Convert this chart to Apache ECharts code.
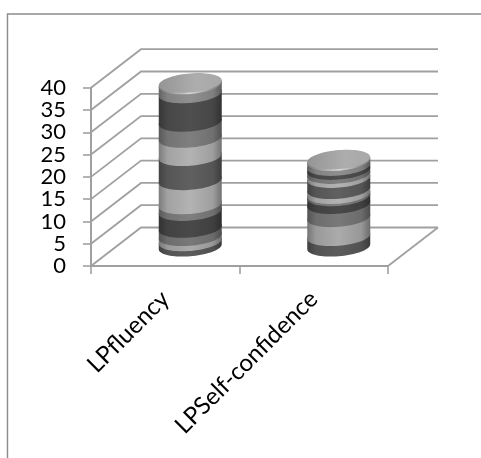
<!DOCTYPE html>
<html>
<head>
<meta charset="utf-8">
<style>html,body{margin:0;padding:0;background:#fff}#c{width:481px;height:458px}</style>
<script src="https://cdn.jsdelivr.net/npm/echarts@6/dist/echarts.min.js"></script>
</head>
<body>
<div id="c"></div>
<script>
const categories = ['LPfluency', 'LPSelf-confidence'];
const yTicks = [0, 5, 10, 15, 20, 25, 30, 35, 40];
// Stacked series, bottom to top, one value per category
const s01 = [1.2, 2.35];
const s02 = [1.15, 4.25];
const s03 = [1.85, 2.95];
const s04 = [3.8, 1.75];
const s05 = [1.5, 0.5];
const s06 = [5.4, 1.1];
const s07 = [5.4, 2.5];
const s08 = [4.1, 0.9];
const s09 = [3.6, 0.9];
const s10 = [6.4, 0.9];
const s11 = [2.0, 1.1];
const stack = [s01, s02, s03, s04, s05, s06, s07, s08, s09, s10, s11];
const shades = [0x58, 0xa4, 0x74, 0x46, 0x7a, 0xac, 0x5c, 0xac, 0x7a, 0x4c, 0x8a];

// 3D look (pixels)
const DX = 50, DY = 38.5, RX = 31.5, RY = 9.5, SHEAR = 0.08;
const GRID_COLOR = '#a0a0a0';

function grey(v) { v = Math.max(0, Math.min(255, Math.round(v))); return 'rgb(' + v + ',' + v + ',' + v + ')'; }
function ringPoint(c, t) {
  return [c[0] + RX * Math.cos(t), c[1] + RY * Math.sin(t) - SHEAR * RX * Math.cos(t)];
}
function centre(api, cat, val) {
  const p = api.coord([cat, val]);
  return [p[0] + DX / 2, p[1] - DY / 2];
}
function sideGradient(v) {
  return new echarts.graphic.LinearGradient(0, 0, 1, 0, [
    { offset: 0, color: grey(v * 0.72) },
    { offset: 0.14, color: grey(v * 0.94) },
    { offset: 0.5, color: grey(v * 1.04) },
    { offset: 0.86, color: grey(v * 0.92) },
    { offset: 1, color: grey(v * 0.66) }
  ]);
}
function bandSeries(idx) {
  let data = categories.map((c, i) => {
    let start = 0;
    for (let k = 0; k < idx; k++) start += stack[k][i];
    return [i, start, start + stack[idx][i]];
  });
  return {
    type: 'custom', name: 'S' + (idx + 1), coordinateSystem: 'cartesian2d', clip: false,
    dimensions: ['cat', 'start', 'end'], encode: { x: 0, y: 2 }, data: data, z: 3 + idx * 0.01,
    renderItem(params, api) {
      const lo = centre(api, api.value(0), api.value(1));
      const hi = centre(api, api.value(0), api.value(2));
      const pts = [];
      const N = 36;
      for (let n = 0; n <= N; n++) pts.push(ringPoint(lo, Math.PI * n / N));
      for (let n = 0; n <= N; n++) pts.push(ringPoint(hi, Math.PI + Math.PI * n / N));
      return { type: 'polygon', shape: { points: pts }, style: { fill: sideGradient(shades[idx]) } };
    }
  };
}
const capData = categories.map((c, i) => [i, stack.reduce((sum, s) => sum + s[i], 0)]);
const capSeries = {
  type: 'custom', name: 'cap', coordinateSystem: 'cartesian2d', clip: false,
  encode: { x: 0, y: 1 }, data: capData, z: 4,
  renderItem(params, api) {
    const c = centre(api, api.value(0), api.value(1));
    const ring = (cc) => { const a = []; for (let n = 0; n < 72; n++) a.push(ringPoint(cc, 2 * Math.PI * n / 72)); return a; };
    return {
      type: 'group', children: [
        { type: 'polygon', shape: { points: ring(c) }, style: {
          fill: new echarts.graphic.LinearGradient(0, 0, 1, 0, [
            { offset: 0, color: '#787878' }, { offset: 0.5, color: '#d8d8d8' }, { offset: 1, color: '#787878' }]) } },
        { type: 'polygon', shape: { points: ring([c[0], c[1] - 1.6]) }, style: {
          fill: new echarts.graphic.LinearGradient(0, 0, 1, 0.3, [
            { offset: 0, color: '#949494' }, { offset: 0.6, color: '#adadad' }, { offset: 1, color: '#a8a8a8' }]) } }
      ]
    };
  }
};
const wallSeries = {
  type: 'custom', name: 'walls', coordinateSystem: 'cartesian2d', clip: false,
  encode: { y: 0 }, data: yTicks.map(v => [v]), z: 1, silent: true,
  renderItem(params, api) {
    const g = params.coordSys;
    const y = api.coord([0, api.value(0)])[1];
    const left = g.x, right = g.x + g.width;
    const children = [{
      type: 'polyline',
      shape: { points: [[left, y], [left + DX, y - DY], [right + DX, y - DY]] },
      style: { stroke: GRID_COLOR, lineWidth: 1.8, fill: null }
    }];
    if (api.value(0) === 0) children.push({
      type: 'line', shape: { x1: right, y1: y, x2: right + DX, y2: y - DY },
      style: { stroke: GRID_COLOR, lineWidth: 1.8 }
    });
    return { type: 'group', children };
  }
};
const font = 'Lato';
const chart = echarts.init(document.getElementById('c'), null, { renderer: 'canvas' });
chart.setOption({
  animation: false,
  backgroundColor: '#fff',
  grid: { left: 91, top: 87.7, width: 297, height: 178.3 },
  graphic: [{
    type: 'polyline', silent: true,
    shape: { points: [[7.5, 458], [7.5, 14], [481, 14]] },
    style: { stroke: '#8c8c8c', lineWidth: 1.4, fill: null }
  }],
  xAxis: {
    type: 'category', data: categories, boundaryGap: true,
    axisLine: { show: true, lineStyle: { color: GRID_COLOR, width: 2 } },
    axisTick: { show: true, length: 8, alignWithLabel: false, lineStyle: { color: GRID_COLOR, width: 1.6 } },
    axisLabel: { rotate: 45, margin: 29, color: '#000', fontFamily: font, fontSize: 24, interval: 0, hideOverlap: false },
    z: 2
  },
  yAxis: {
    type: 'value', min: 0, max: 40, interval: 5,
    axisLine: { show: true, lineStyle: { color: GRID_COLOR, width: 2 } },
    axisTick: { show: true, length: 8, lineStyle: { color: GRID_COLOR, width: 1.6 } },
    axisLabel: { margin: 25, color: '#000', fontFamily: font, fontSize: 22, showMinLabel: true, showMaxLabel: true, hideOverlap: false },
    splitLine: { show: false },
    z: 2
  },
  series: [wallSeries].concat(stack.map((s, i) => bandSeries(i)), [capSeries])
});
</script>
</body>
</html>
